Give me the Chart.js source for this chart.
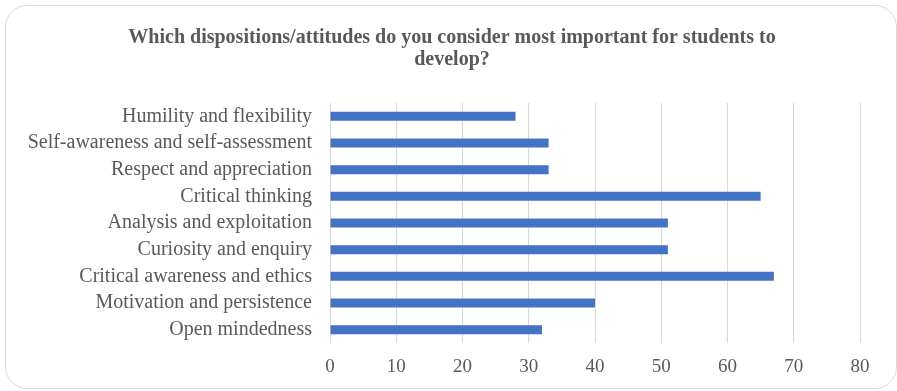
<!DOCTYPE html>
<html>
<head>
<meta charset="utf-8">
<script src="https://cdn.jsdelivr.net/npm/chart.js@4"></script>
<style>
  html, body { margin: 0; padding: 0; background: #fff; overflow: hidden; }
  #wrap { position: relative; width: 897px; height: 391px; }
  #frame {
    position: absolute; left: 5px; top: 5px; width: 890px; height: 382px;
    border: 1.5px solid #d9d9d9; border-radius: 22px; pointer-events: none;
  }
  canvas { position: absolute; left: 0; top: 0; }
</style>
</head>
<body>
<div id="wrap">
  <canvas id="chart" width="897" height="391"></canvas>
  <div id="frame"></div>
</div>
<script>
// 類別與數值
const categories = [
    'Humility and flexibility',
    'Self-awareness and self-assessment',
    'Respect and appreciation',
    'Critical thinking',
    'Analysis and exploitation',
    'Curiosity and enquiry',
    'Critical awareness and ethics',
    'Motivation and persistence',
    'Open mindedness'
];
const responses = [28, 33, 33, 65, 51, 51, 67, 40, 32];
const xTicks = [0, 10, 20, 30, 40, 50, 60, 70, 80];

const serif = "'Liberation Serif', 'Times New Roman', serif";

// 把標題往右移，讓它置中於整個外框
const shiftTitle = {
    id: 'shiftTitle',
    afterLayout(chart) {
        const t = chart.titleBlock;
        if (t) { t.left += 22; t.right += 22; }
    }
};

document.addEventListener('DOMContentLoaded', () => {
    const ctx = document.getElementById('chart').getContext('2d');

    new Chart(ctx, {
        type: 'bar',
        data: {
            labels: categories,
            datasets: [{
                data: responses,
                backgroundColor: '#4472C4',
                borderWidth: 0,
                categoryPercentage: 1,
                barPercentage: 0.34
            }]
        },
        options: {
            indexAxis: 'y',
            responsive: false,
            animation: false,
            layout: { padding: { left: 0, right: 37, top: 0, bottom: 0 } },
            plugins: {
                legend: { display: false },
                tooltip: { enabled: false },
                title: {
                    display: true,
                    text: ['Which dispositions/attitudes do you consider most important for students to', 'develop?'],
                    color: '#595959',
                    font: { family: serif, size: 20, weight: 'bold', lineHeight: 1.1 },
                    padding: { top: 27, bottom: 32 }
                }
            },
            scales: {
                x: {
                    min: 0,
                    max: 80,
                    afterBuildTicks: axis => { axis.ticks = xTicks.map(v => ({ value: v })); },
                    afterFit: axis => { axis.height = 48; },
                    border: { display: false },
                    grid: { color: '#d9d9d9', lineWidth: 1, drawTicks: false },
                    ticks: {
                        color: '#595959',
                        padding: 13,
                        font: { family: serif, size: 19 }
                    }
                },
                y: {
                    afterFit: axis => { axis.width = 330; },
                    border: { display: false },
                    grid: { display: false },
                    ticks: {
                        autoSkip: false,
                        color: '#595959',
                        padding: 10,
                        font: { family: serif, size: 20 }
                    }
                }
            }
        },
        plugins: [shiftTitle]
    });
});
</script>
</body>
</html>
